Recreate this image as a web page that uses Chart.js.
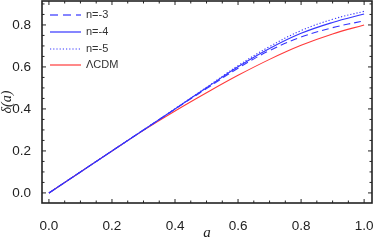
<!DOCTYPE html>
<html>
<head>
<meta charset="utf-8">
<script src="https://cdn.jsdelivr.net/npm/chart.js@4"></script>
<style>
  html, body { margin: 0; padding: 0; background: #fff; }
  #wrap { width: 374px; height: 243px; }
</style>
</head>
<body>
<div id="wrap"><canvas id="growthChart" width="374" height="243"></canvas></div>
<script>
// scale factor a
const aValues = [0, 0.1, 0.2, 0.3, 0.4, 0.5, 0.6, 0.7, 0.8, 0.9, 1.0];
// delta(a)
const deltaN3 = [0, 0.1, 0.2, 0.3, 0.399, 0.497, 0.594, 0.678, 0.742, 0.787, 0.82];
const deltaN4 = [0, 0.1, 0.2, 0.3, 0.4, 0.501, 0.601, 0.688, 0.76, 0.812, 0.852];
const deltaN5 = [0, 0.1, 0.2, 0.3, 0.401, 0.503, 0.606, 0.697, 0.773, 0.827, 0.865];
const deltaLCDM = [0, 0.1, 0.2, 0.298, 0.39, 0.477, 0.56, 0.636, 0.703, 0.757, 0.8];
const majorTicks = [0, 0.2, 0.4, 0.6, 0.8, 1.0];
const legendLabels = ["n=-3", "n=-4", "n=-5", "\u039BCDM"];

const BLUE = "#3434ff";
const RED = "#ff3a3a";

function toPoints(ys) {
    return aValues.map((a, i) => ({ x: a, y: ys[i] }));
}

const series = [
    { label: legendLabels[0], data: toPoints(deltaN3), borderColor: BLUE, borderDash: [7, 4] },
    { label: legendLabels[1], data: toPoints(deltaN4), borderColor: BLUE, borderDash: [] },
    { label: legendLabels[2], data: toPoints(deltaN5), borderColor: BLUE, borderDash: [1.2, 2] },
    { label: legendLabels[3], data: toPoints(deltaLCDM), borderColor: RED, borderDash: [] },
];

// frame with inward ticks, like the original plot
const framePlugin = {
    id: "frame",
    afterDraw(chart) {
        const { ctx, chartArea: ca, scales } = chart;
        ctx.save();
        ctx.strokeStyle = "#222";
        ctx.lineWidth = 1;
        const minor = [];
        for (let i = 0; i <= 20; i++) minor.push(i * 0.05);
        minor.forEach(v => {
            const isMajor = Math.abs(v * 5 - Math.round(v * 5)) < 1e-6;
            const len = isMajor ? 4 : 2.5;
            const px = scales.x.getPixelForValue(v);
            ctx.beginPath();
            ctx.moveTo(px, ca.bottom); ctx.lineTo(px, ca.bottom - len);
            ctx.moveTo(px, ca.top); ctx.lineTo(px, ca.top + len);
            ctx.stroke();
            if (v <= 0.9) {
                const py = scales.y.getPixelForValue(v);
                ctx.beginPath();
                ctx.moveTo(ca.left, py); ctx.lineTo(ca.left + len, py);
                ctx.moveTo(ca.right, py); ctx.lineTo(ca.right - len, py);
                ctx.stroke();
            }
        });
        ctx.lineWidth = 1.6;
        ctx.strokeRect(ca.left, ca.top, ca.right - ca.left, ca.bottom - ca.top);

        // legend
        ctx.font = "11px 'Liberation Sans', Arial, sans-serif";
        ctx.textBaseline = "middle";
        series.forEach((s, i) => {
            const y = Math.round(ca.top + 14 + i * 16.8);
            ctx.setLineDash(i === 0 ? [8, 5] : s.borderDash);
            ctx.strokeStyle = s.borderColor;
            ctx.globalAlpha = i === 0 ? 0.6 : 1;
            ctx.lineWidth = i === 0 ? 2 : 1.2;
            ctx.beginPath();
            ctx.moveTo(ca.left + 8, y);
            ctx.lineTo(ca.left + 39, y);
            ctx.stroke();
            ctx.globalAlpha = 1;
            ctx.setLineDash([]);
            ctx.fillStyle = "#333";
            ctx.fillText(s.label, ca.left + 44, y);
        });
        ctx.restore();
    }
};

new Chart(document.getElementById("growthChart"), {
    type: "line",
    data: {
        datasets: series.map(s => ({
            label: s.label,
            data: s.data,
            borderColor: s.borderColor,
            borderDash: s.borderDash,
            borderWidth: 1.1,
            pointRadius: 0,
            fill: false,
            tension: 0.4,
        })),
    },
    options: {
        responsive: false,
        animation: false,
        layout: { padding: { top: 1, right: 2, left: 0, bottom: 0 } },
        plugins: { legend: { display: false }, tooltip: { enabled: false } },
        scales: {
            x: {
                type: "linear",
                min: -0.022,
                max: 1.025,
                afterBuildTicks: axis => { axis.ticks = majorTicks.map(v => ({ value: v })); },
                afterFit: axis => { axis.height = 40; axis.paddingLeft = 0; axis.paddingRight = 0; },
                grid: { display: false },
                border: { display: false },
                ticks: {
                    padding: 7,
                    color: "#222",
                    font: { size: 13.5, family: "'Liberation Sans', Arial, sans-serif" },
                    callback: v => v.toFixed(1),
                },
                title: {
                    display: true,
                    text: "a",
                    color: "#222",
                    padding: { top: 0, bottom: 1 },
                    font: { size: 15, style: "italic", family: "'Liberation Serif', 'Times New Roman', serif" },
                },
            },
            y: {
                type: "linear",
                min: -0.048,
                max: 0.914,
                afterBuildTicks: axis => { axis.ticks = majorTicks.slice(0, 5).map(v => ({ value: v })); },
                afterFit: axis => { axis.width = 42; axis.paddingTop = 0; axis.paddingBottom = 0; },
                grid: { display: false },
                border: { display: false },
                ticks: {
                    padding: 3,
                    color: "#222",
                    font: { size: 13.5, family: "'Liberation Sans', Arial, sans-serif" },
                    callback: v => v.toFixed(1),
                },
                title: {
                    display: true,
                    text: "\u03B4(a)",
                    color: "#222",
                    padding: { top: 0, bottom: 0 },
                    font: { size: 14, lineHeight: 1.05, style: "italic", family: "'Liberation Serif', 'Times New Roman', serif" },
                },
            },
        },
    },
    plugins: [framePlugin],
});
</script>
</body>
</html>
